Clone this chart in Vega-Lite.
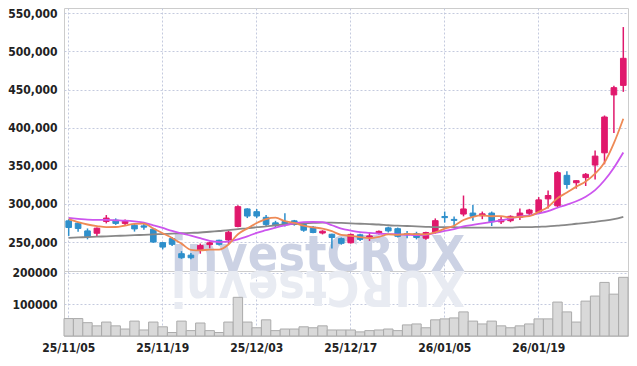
{
  "$schema": "https://vega.github.io/schema/vega-lite/v6.json",
  "padding": {"left": 7, "top": 6, "right": 9, "bottom": 5},
  "background": "white",
  "bounds": "flush",
  "config": {
    "view": {"stroke": "#cccccc"},
    "axis": {"labelFont": "DejaVu Sans Condensed", "labelFontSize": 12, "labelFontWeight": "bold", "labelColor": "#222222", "gridColor": "#c4cade", "gridDash": [2, 2], "gridWidth": 1, "ticks": false, "domain": false, "title": null},
    "concat": {"spacing": 0}
  },
  "datasets": {
    "k": [
      {"d": "25/11/05", "o": 277800, "h": 280000, "l": 258000, "c": 269100, "v": 55000, "m5": 280000, "m10": 281500, "m60": 255500},
      {"d": "25/11/06", "o": 274800, "h": 276000, "l": 263500, "c": 267800, "v": 55000, "m5": 276000, "m10": 280500, "m60": 256000},
      {"d": "25/11/07", "o": 264600, "h": 267800, "l": 253600, "c": 256600, "v": 42000, "m5": 273000, "m10": 279500, "m60": 256500},
      {"d": "25/11/10", "o": 261500, "h": 269100, "l": 256600, "c": 268200, "v": 32000, "m5": 271000, "m10": 279000, "m60": 257000},
      {"d": "25/11/11", "o": 277000, "h": 285400, "l": 274400, "c": 281400, "v": 44000, "m5": 269500, "m10": 279000, "m60": 257500},
      {"d": "25/11/12", "o": 278800, "h": 281000, "l": 272500, "c": 274400, "v": 32000, "m5": 269700, "m10": 278500, "m60": 258000},
      {"d": "25/11/13", "o": 274400, "h": 279600, "l": 272000, "c": 277800, "v": 22000, "m5": 271700, "m10": 278000, "m60": 258500},
      {"d": "25/11/14", "o": 272100, "h": 274400, "l": 263700, "c": 267200, "v": 47000, "m5": 273800, "m10": 277000, "m60": 259000},
      {"d": "25/11/17", "o": 271200, "h": 275600, "l": 266000, "c": 269500, "v": 19000, "m5": 274100, "m10": 275500, "m60": 259500},
      {"d": "25/11/18", "o": 266800, "h": 268500, "l": 249000, "c": 250000, "v": 44000, "m5": 267800, "m10": 272000, "m60": 260000},
      {"d": "25/11/19", "o": 249200, "h": 250000, "l": 240400, "c": 243400, "v": 29000, "m5": 261600, "m10": 268500, "m60": 260500},
      {"d": "25/11/20", "o": 254500, "h": 256600, "l": 244700, "c": 247000, "v": 11000, "m5": 255400, "m10": 264500, "m60": 261000},
      {"d": "25/11/21", "o": 234700, "h": 238000, "l": 228000, "c": 229400, "v": 47000, "m5": 247900, "m10": 261500, "m60": 261500},
      {"d": "25/11/24", "o": 232800, "h": 235500, "l": 227500, "c": 229400, "v": 17000, "m5": 239800, "m10": 258500, "m60": 262000},
      {"d": "25/11/25", "o": 239000, "h": 248000, "l": 234700, "c": 245600, "v": 41000, "m5": 239000, "m10": 255000, "m60": 262500},
      {"d": "25/11/26", "o": 246600, "h": 250500, "l": 241700, "c": 249000, "v": 17000, "m5": 240100, "m10": 251500, "m60": 263500},
      {"d": "25/11/27", "o": 252300, "h": 253000, "l": 245500, "c": 247000, "v": 11000, "m5": 240100, "m10": 250000, "m60": 264500},
      {"d": "25/11/28", "o": 252700, "h": 264500, "l": 247000, "c": 262900, "v": 44000, "m5": 246800, "m10": 250500, "m60": 265500},
      {"d": "25/12/01", "o": 270400, "h": 298400, "l": 269500, "c": 296400, "v": 122000, "m5": 260200, "m10": 253500, "m60": 267000},
      {"d": "25/12/02", "o": 293400, "h": 294300, "l": 281400, "c": 284100, "v": 44000, "m5": 267900, "m10": 257500, "m60": 268000},
      {"d": "25/12/03", "o": 289800, "h": 293400, "l": 281400, "c": 284100, "v": 26000, "m5": 274900, "m10": 262000, "m60": 269500},
      {"d": "25/12/04", "o": 282400, "h": 285400, "l": 270400, "c": 273100, "v": 51000, "m5": 280100, "m10": 265500, "m60": 270500},
      {"d": "25/12/05", "o": 275200, "h": 277800, "l": 268200, "c": 272100, "v": 17000, "m5": 281900, "m10": 269000, "m60": 272000},
      {"d": "25/12/08", "o": 277000, "h": 287700, "l": 270400, "c": 273500, "v": 22000, "m5": 277300, "m10": 272000, "m60": 273000},
      {"d": "25/12/09", "o": 277800, "h": 279000, "l": 271500, "c": 273000, "v": 22000, "m5": 275100, "m10": 274500, "m60": 274000},
      {"d": "25/12/10", "o": 273000, "h": 275000, "l": 263500, "c": 265500, "v": 29000, "m5": 271400, "m10": 276000, "m60": 274500},
      {"d": "25/12/11", "o": 269500, "h": 271000, "l": 261500, "c": 262500, "v": 26000, "m5": 269300, "m10": 276500, "m60": 275000},
      {"d": "25/12/12", "o": 261800, "h": 265500, "l": 260000, "c": 264200, "v": 32000, "m5": 267700, "m10": 276000, "m60": 275500},
      {"d": "25/12/15", "o": 260200, "h": 261000, "l": 241500, "c": 256000, "v": 19000, "m5": 264200, "m10": 272000, "m60": 275500},
      {"d": "25/12/16", "o": 254500, "h": 256000, "l": 246500, "c": 248300, "v": 19000, "m5": 259300, "m10": 267500, "m60": 275000},
      {"d": "25/12/17", "o": 249000, "h": 261000, "l": 248000, "c": 260000, "v": 19000, "m5": 258200, "m10": 265000, "m60": 274500},
      {"d": "25/12/18", "o": 259500, "h": 261000, "l": 251500, "c": 253500, "v": 13000, "m5": 256400, "m10": 263000, "m60": 274000},
      {"d": "25/12/19", "o": 256000, "h": 262500, "l": 251500, "c": 258000, "v": 17000, "m5": 255200, "m10": 262000, "m60": 273500},
      {"d": "25/12/22", "o": 261000, "h": 265000, "l": 260000, "c": 264000, "v": 19000, "m5": 256800, "m10": 261000, "m60": 273000},
      {"d": "25/12/23", "o": 268600, "h": 270000, "l": 262500, "c": 264600, "v": 22000, "m5": 260000, "m10": 260500, "m60": 272000},
      {"d": "25/12/24", "o": 267500, "h": 269000, "l": 256000, "c": 257500, "v": 17000, "m5": 259500, "m10": 260000, "m60": 271500},
      {"d": "25/12/26", "o": 261000, "h": 264500, "l": 255000, "c": 259500, "v": 35000, "m5": 260700, "m10": 259500, "m60": 271000},
      {"d": "25/12/29", "o": 261000, "h": 263500, "l": 253500, "c": 256000, "v": 38000, "m5": 260300, "m10": 259000, "m60": 270500},
      {"d": "25/12/30", "o": 255000, "h": 263500, "l": 253000, "c": 262500, "v": 26000, "m5": 260000, "m10": 259500, "m60": 270000},
      {"d": "26/01/02", "o": 262500, "h": 281000, "l": 261000, "c": 278000, "v": 51000, "m5": 262700, "m10": 262000, "m60": 269500},
      {"d": "26/01/05", "o": 283500, "h": 290000, "l": 275500, "c": 282000, "v": 54000, "m5": 267600, "m10": 264500, "m60": 269500},
      {"d": "26/01/06", "o": 279700, "h": 283500, "l": 268000, "c": 278400, "v": 57000, "m5": 271400, "m10": 267000, "m60": 269500},
      {"d": "26/01/07", "o": 286700, "h": 311000, "l": 283700, "c": 293400, "v": 76000, "m5": 278900, "m10": 270500, "m60": 269000},
      {"d": "26/01/08", "o": 288000, "h": 298500, "l": 278000, "c": 283700, "v": 47000, "m5": 283100, "m10": 272500, "m60": 269000},
      {"d": "26/01/09", "o": 284500, "h": 290000, "l": 280000, "c": 287000, "v": 38000, "m5": 284900, "m10": 274500, "m60": 269000},
      {"d": "26/01/12", "o": 288000, "h": 290000, "l": 271000, "c": 276500, "v": 47000, "m5": 283800, "m10": 276500, "m60": 269000},
      {"d": "26/01/13", "o": 276500, "h": 283000, "l": 273500, "c": 279200, "v": 32000, "m5": 284000, "m10": 278500, "m60": 269000},
      {"d": "26/01/14", "o": 278000, "h": 285000, "l": 276000, "c": 283700, "v": 26000, "m5": 282000, "m10": 281000, "m60": 269000},
      {"d": "26/01/15", "o": 282400, "h": 294000, "l": 279000, "c": 288000, "v": 32000, "m5": 282900, "m10": 283500, "m60": 269500},
      {"d": "26/01/16", "o": 287700, "h": 293500, "l": 285000, "c": 292000, "v": 38000, "m5": 283900, "m10": 285000, "m60": 269500},
      {"d": "26/01/19", "o": 289000, "h": 309000, "l": 288000, "c": 305300, "v": 54000, "m5": 289600, "m10": 287500, "m60": 270000},
      {"d": "26/01/20", "o": 306600, "h": 317500, "l": 294000, "c": 311000, "v": 54000, "m5": 296000, "m10": 290500, "m60": 270500},
      {"d": "26/01/21", "o": 297500, "h": 343000, "l": 296000, "c": 341000, "v": 107000, "m5": 307500, "m10": 295000, "m60": 271500},
      {"d": "26/01/22", "o": 337500, "h": 343000, "l": 320000, "c": 325500, "v": 76000, "m5": 315000, "m10": 299000, "m60": 272500},
      {"d": "26/01/23", "o": 327800, "h": 331000, "l": 320000, "c": 330500, "v": 44000, "m5": 322700, "m10": 303500, "m60": 274000},
      {"d": "26/01/26", "o": 334500, "h": 340500, "l": 323500, "c": 338800, "v": 110000, "m5": 329400, "m10": 309500, "m60": 275000},
      {"d": "26/01/27", "o": 351000, "h": 370000, "l": 332000, "c": 362700, "v": 126000, "m5": 339700, "m10": 318000, "m60": 276500},
      {"d": "26/01/28", "o": 367000, "h": 416000, "l": 352000, "c": 414000, "v": 169000, "m5": 354300, "m10": 331000, "m60": 278000},
      {"d": "26/01/29", "o": 443000, "h": 455000, "l": 393000, "c": 452500, "v": 132000, "m5": 379700, "m10": 347500, "m60": 280000},
      {"d": "26/01/30", "o": 455500, "h": 532000, "l": 447000, "c": 491000, "v": 185000, "m5": 411800, "m10": 367500, "m60": 283000}
    ]
  },
  "vconcat": [
    {
      "width": 564,
      "height": 263,
      "encoding": {
        "x": {"field": "d", "type": "ordinal", "scale": {"type": "band", "paddingInner": 0, "paddingOuter": 0},
              "axis": {"values": ["25/11/05", "25/11/19", "25/12/03", "25/12/17", "26/01/05", "26/01/19"], "labels": false, "grid": true, "labelPadding": 0, "title": null}}
      },
      "layer": [
        {
          "data": {"values": [{"t": "investCRUX"}]},
          "mark": {"type": "text", "font": "DejaVu Sans Condensed", "fontWeight": "bold", "fontSize": 50, "color": "#ccd2e4", "align": "center", "baseline": "alphabetic", "dx": 5},
          "encoding": {
            "x": {"datum": "25/12/11"},
            "y": {"datum": 212500, "type": "quantitative"},
            "text": {"field": "t"}
          }
        },
        {
          "data": {"name": "k"},
          "mark": {"type": "rule", "strokeWidth": 1.5},
          "encoding": {
            "y": {"field": "l", "type": "quantitative", "scale": {"domain": [212000, 557000], "nice": false, "zero": false},
                  "axis": {"values": [250000, 300000, 350000, 400000, 450000, 500000, 550000], "format": ",.0f", "formatType": "number", "grid": true, "labelPadding": 7, "title": null}},
            "y2": {"field": "h"},
            "color": {"condition": {"test": "datum.c >= datum.o", "value": "#e0186c"}, "value": "#2e8fcb"}
          }
        },
        {
          "data": {"name": "k"},
          "mark": {"type": "bar", "width": {"band": 0.6}, "strokeWidth": 1},
          "encoding": {
            "y": {"field": "o", "type": "quantitative"},
            "y2": {"field": "c"},
            "color": {"condition": {"test": "datum.c >= datum.o", "value": "#e0186c"}, "value": "#2e8fcb"},
            "stroke": {"condition": {"test": "datum.c >= datum.o", "value": "#e0186c"}, "value": "#2e8fcb"}
          }
        },
        {
          "data": {"name": "k"},
          "mark": {"type": "line", "color": "#888888", "strokeWidth": 1.8, "interpolate": "monotone"},
          "encoding": {"y": {"field": "m60", "type": "quantitative"}}
        },
        {
          "data": {"name": "k"},
          "mark": {"type": "line", "color": "#cc55ee", "strokeWidth": 1.8, "interpolate": "monotone"},
          "encoding": {"y": {"field": "m10", "type": "quantitative"}}
        },
        {
          "data": {"name": "k"},
          "mark": {"type": "line", "color": "#ee8a55", "strokeWidth": 1.8, "interpolate": "monotone"},
          "encoding": {"y": {"field": "m5", "type": "quantitative"}}
        }
      ]
    },
    {
      "width": 564,
      "height": 65,
      "encoding": {
        "x": {"field": "d", "type": "ordinal", "scale": {"type": "band", "paddingInner": 0, "paddingOuter": 0},
              "axis": {"values": ["25/11/05", "25/11/19", "25/12/03", "25/12/17", "26/01/05", "26/01/19"], "labelPadding": 6, "grid": true, "labelAngle": 0, "title": null}}
      },
      "layer": [
        {
          "data": {"values": [{"t": "XURCtsevni"}]},
          "mark": {"type": "text", "font": "DejaVu Sans Condensed", "fontWeight": "bold", "fontSize": 50, "color": "#e8ebf2", "align": "center", "baseline": "alphabetic", "angle": 180, "dx": -5},
          "encoding": {
            "x": {"datum": "25/12/11"},
            "y": {"datum": 205000, "type": "quantitative"},
            "text": {"field": "t"}
          }
        },
        {
          "data": {"name": "k"},
          "mark": {"type": "bar", "fill": "#d9d9d9", "stroke": "#ababab", "strokeWidth": 1},
          "encoding": {"y": {"field": "v", "type": "quantitative", "scale": {"domain": [0, 205000], "nice": false},
                  "axis": {"values": [100000, 200000], "format": "d", "formatType": "number", "grid": true, "labelPadding": 7, "title": null}}}
        }
      ]
    }
  ]
}
